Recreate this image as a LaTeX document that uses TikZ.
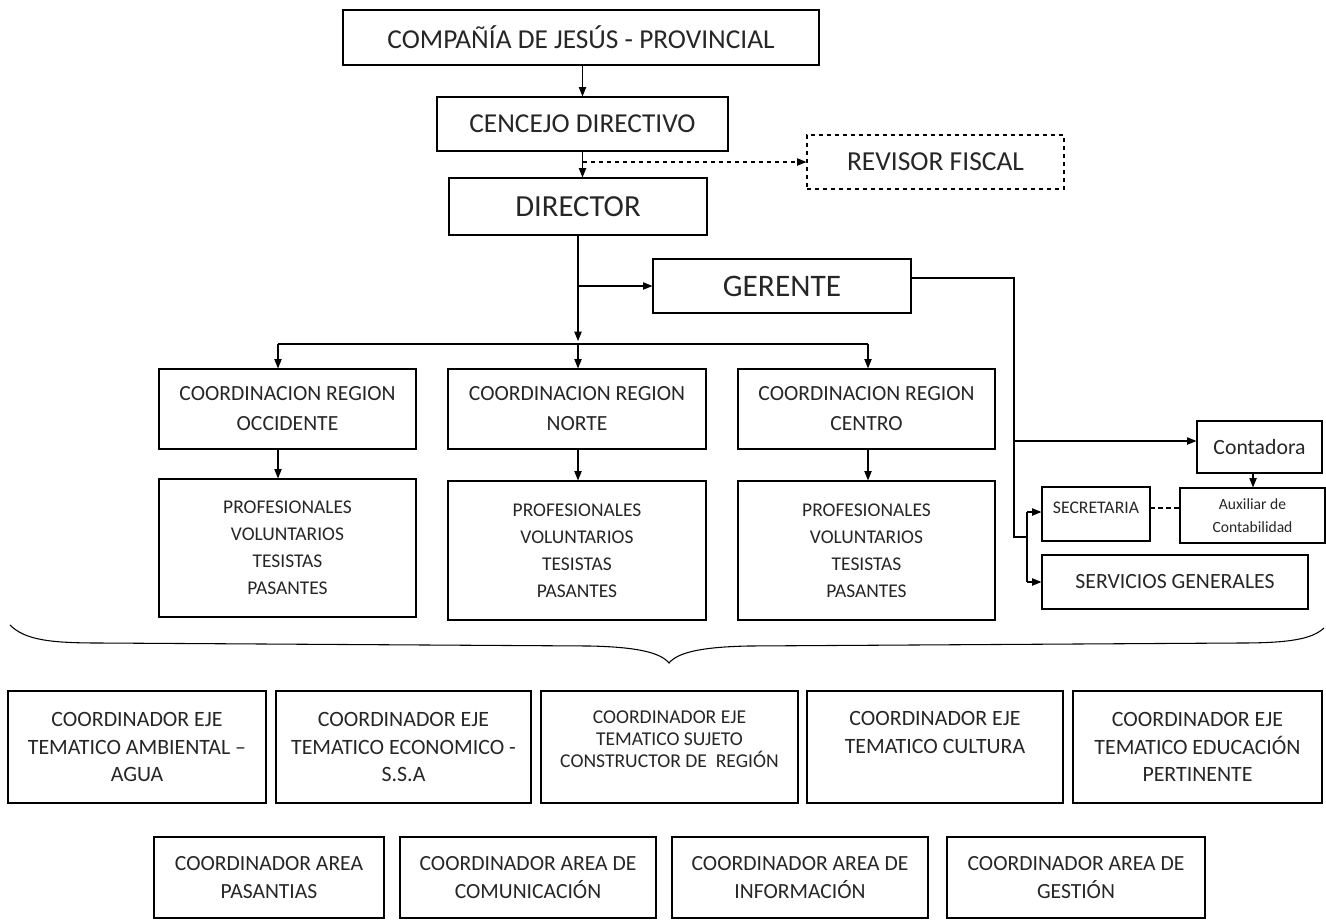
\documentclass[tikz,border=0pt]{standalone}
\usepackage{fontspec}
\setmainfont{Carlito}
\usetikzlibrary{arrows.meta}
\newcommand\fsz[2]{\fontsize{#1pt}{#2pt}\selectfont}
% \bx[options]{x1}{y1}{x2}{y2}{name}{text}
\newcommand\bx[7][]{\node[box,#1,minimum width={(#4-#2)*0.75pt},minimum height={(#5-#3)*0.75pt}] (#6) at ({(#2+#4)/2},{(#3+#5)/2}) {#7};}
\tikzset{
  box/.style={draw, line width=0.9pt, inner sep=0pt, align=center, text=black!85},
  dbox/.style={box, dashed},
  txt/.style={inner sep=0pt, align=center, text=black!85},
  ln/.style={line width=0.8pt},
  arr/.style={ln, -{Triangle[length=7pt,width=5.5pt]}},
}
\begin{document}
\begin{tikzpicture}[x=0.75pt,y=-0.75pt]
\useasboundingbox (0,0) rectangle (1326,921);

% top chain
\bx[font=\fsz{20.5}{24}]{343}{10}{819}{65}{comp}{COMPAÑÍA DE JESÚS - PROVINCIAL}
\bx[font=\fsz{20.5}{24}]{437}{97}{728}{151}{cen}{CENCEJO DIRECTIVO}
\bx[dbox,font=\fsz{20.6}{24}]{807}{135}{1064}{189}{rev}{REVISOR FISCAL}
\bx[font=\fsz{23}{27}]{449}{178}{707}{235}{dir}{DIRECTOR}
\bx[font=\fsz{23.5}{27}]{653}{259}{911}{313}{ger}{GERENTE}

% regions
\bx[font=\fsz{16.2}{22.5}]{159}{369}{416}{449}{occ}{COORDINACION REGION\\OCCIDENTE}
\bx[font=\fsz{16.2}{22.5}]{448}{369}{706}{449}{nor}{COORDINACION REGION\\NORTE}
\bx[font=\fsz{16.2}{22.5}]{738}{369}{995}{449}{cto}{COORDINACION REGION\\CENTRO}

\bx[font=\fsz{14.6}{20.25}]{159}{479}{416}{617}{pocc}{PROFESIONALES\\VOLUNTARIOS\\TESISTAS\\PASANTES}
\bx[font=\fsz{14.6}{20.25}]{448}{481}{706}{620}{pnor}{PROFESIONALES\\VOLUNTARIOS\\TESISTAS\\PASANTES}
\bx[font=\fsz{14.6}{20.25}]{738}{481}{995}{620}{pcto}{PROFESIONALES\\VOLUNTARIOS\\TESISTAS\\PASANTES}

% admin
\bx[font=\fsz{16.3}{20}]{1197}{421}{1322}{473}{cont}{Contadora}
\bx{1042}{487}{1150}{541}{sec}{}
\node[txt, font=\fsz{13.3}{16}] (sect) at ([yshift=4.5pt]sec.center) {SECRETARIA};
\bx[font=\fsz{11.7}{17.25}]{1180}{488}{1325}{543}{aux}{Auxiliar de\\Contabilidad}
\bx[font=\fsz{16.3}{20}]{1042}{555}{1308}{609}{serv}{SERVICIOS GENERALES}

% eje boxes
\bx[font=\fsz{16.4}{20.6}]{8}{691}{266}{803}{e1}{COORDINADOR EJE\\TEMATICO AMBIENTAL –\\AGUA}
\bx[font=\fsz{16.4}{20.6}]{276}{691}{531}{803}{e2}{COORDINADOR EJE\\TEMATICO ECONOMICO -\\S.S.A}
\bx{541}{691}{798}{803}{e3}{}
\node[txt, font=\fsz{14.7}{16.5}] (e3t) at ([yshift=6pt]e3.center) {COORDINADOR EJE\\TEMATICO SUJETO\\CONSTRUCTOR DE\ \ REGIÓN};
\bx{807}{691}{1063}{803}{e4}{}
\node[txt, font=\fsz{16.4}{20.6}] (e4t) at ([yshift=11pt]e4.center) {COORDINADOR EJE\\TEMATICO CULTURA};
\bx[font=\fsz{16.4}{20.6}]{1073}{691}{1322}{803}{e5}{COORDINADOR EJE\\TEMATICO EDUCACIÓN\\PERTINENTE}

% area boxes
\bx[font=\fsz{16.2}{21}]{154}{837}{384}{918}{a1}{COORDINADOR AREA\\PASANTIAS}
\bx[font=\fsz{16.2}{21}]{400}{837}{656}{918}{a2}{COORDINADOR AREA DE\\COMUNICACIÓN}
\bx[font=\fsz{16.2}{21}]{672}{837}{928}{918}{a3}{COORDINADOR AREA DE\\INFORMACIÓN}
\bx[font=\fsz{16.2}{21}]{947}{837}{1205}{918}{a4}{COORDINADOR AREA DE\\GESTIÓN}

% connectors top
\draw[arr] (cen.north |- comp.south) -- (cen.north);
\draw[arr] (cen.south) -- (cen.south |- dir.north);
\draw[arr, dashed] (cen.south |- rev.west) -- (rev.west);

\coordinate (hubl) at (278,344);
\coordinate (hubc) at (578,344);
\coordinate (hubr) at (868,344);
\coordinate (dtip) at (578,341);
\draw[arr] (dir.south) -- (dtip);
\draw[arr] (dir.south |- ger.west) -- (ger.west);
\draw[ln] (hubl) -- (hubr);
\draw[arr] (hubl) -- (hubl |- occ.north);
\draw[arr] (hubc) -- (hubc |- nor.north);
\draw[arr] (hubr) -- (hubr |- cto.north);

\draw[arr] (occ.south -| hubl) -- (pocc.north -| hubl);
\draw[arr] (nor.south -| hubc) -- (pnor.north -| hubc);
\draw[arr] (cto.south -| hubr) -- (pcto.north -| hubr);

% gerente branch
\coordinate (gr) at (1014,278);
\coordinate (gb) at (1014,537);
\coordinate (sb) at (1027,537);
\coordinate (jc) at (1014,441);
\coordinate (s1) at (1027,512);
\coordinate (s2) at (1027,582);
\draw[ln] (ger.east |- gr) -- (gr) -- (gb) -- (sb);
\draw[arr] (jc) -- (jc -| cont.west);
\draw[ln] (s1) -- (s2);
\draw[arr] (s1) -- (s1 -| sec.west);
\draw[arr] (s2) -- (s2 -| serv.west);
\coordinate (ca) at (1253,473);
\draw[arr] (ca) -- (ca |- aux.north);
\coordinate (sa) at (1150,508);
\draw[ln, dashed, dash pattern=on 4pt off 2pt] (sa) -- (sa -| aux.west);

% brace
\draw[ln] (10,625) .. controls (25,640) and (50,643) .. (100,643)
  -- (590,646) .. controls (635,647) and (660,652) .. (669,663)
  .. controls (678,652) and (703,647) .. (748,646)
  -- (1240,643) .. controls (1290,643) and (1312,639) .. (1324,628);
\end{tikzpicture}
\end{document}
